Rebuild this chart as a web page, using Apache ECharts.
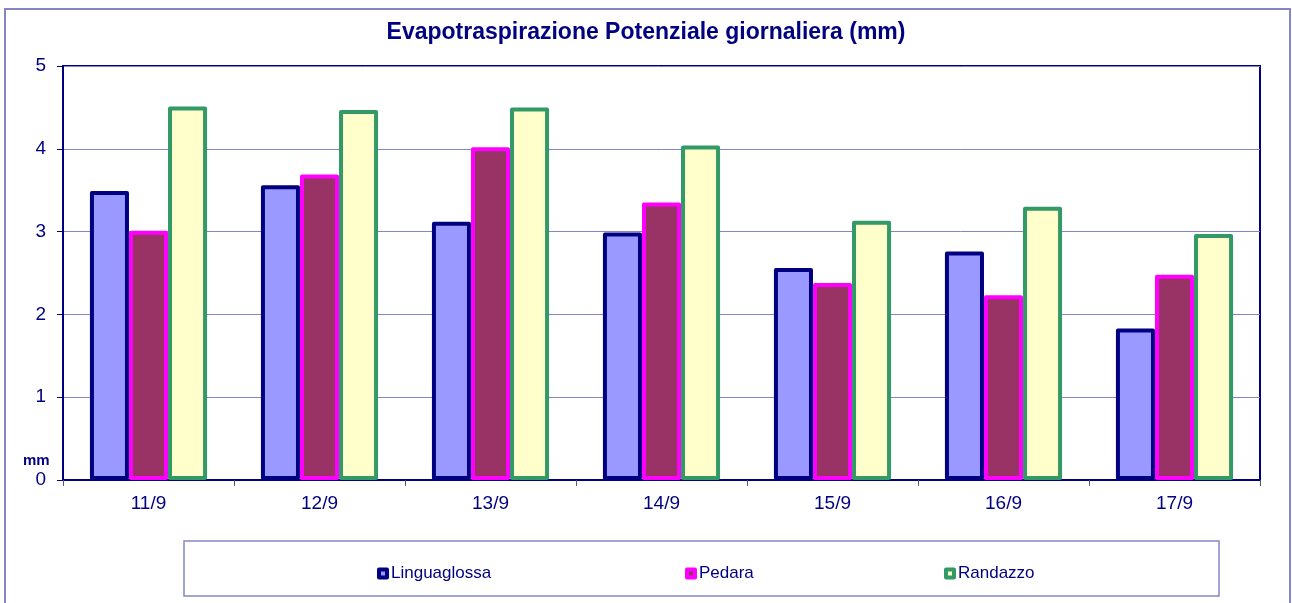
<!DOCTYPE html>
<html>
<head>
<meta charset="utf-8">
<script src="https://cdn.jsdelivr.net/npm/echarts@6/dist/echarts.min.js"></script>
<style>
html,body{margin:0;padding:0;background:#fff;}
#chart{width:1292px;height:603px;}
</style>
</head>
<body>
<div id="chart"></div>
<script>
var titleText = 'Evapotraspirazione Potenziale giornaliera (mm)';
var categories = ['11/9', '12/9', '13/9', '14/9', '15/9', '16/9', '17/9'];
var linguaglossa = [3.49, 3.56, 3.12, 2.99, 2.56, 2.76, 1.83];
var pedara = [3.01, 3.69, 4.02, 3.35, 2.38, 2.23, 2.48];
var randazzo = [4.51, 4.47, 4.50, 4.04, 3.13, 3.30, 2.97];
var yTicks = [0, 1, 2, 3, 4, 5];

var NAVY = '#000080';
var FONT = '"Liberation Sans", Arial, sans-serif';

var chart = echarts.init(document.getElementById('chart'), null, {renderer: 'canvas'});

function barSeries(name, data, fill, border) {
  return {
    name: name,
    type: 'bar',
    data: data,
    barGap: '0%',
    barCategoryGap: '31.5%',
    itemStyle: {color: fill, borderColor: border, borderWidth: 4, borderJoin: 'round'},
    emphasis: {disabled: true},
    animation: false
  };
}

function legendFor(name, left) {
  return {
    data: [name],
    left: left,
    top: 565,
    padding: 0,
    itemWidth: 8,
    itemHeight: 8,
    itemGap: 0,
    icon: 'rect',
    itemStyle: {borderWidth: 4},
    textStyle: {color: NAVY, fontSize: 17, fontFamily: FONT, padding: [0, 0, 0, -1]},
    selectedMode: false
  };
}

chart.setOption({
  backgroundColor: '#ffffff',
  animation: false,
  title: {
    text: titleText,
    left: 'center',
    top: 16,
    textStyle: {color: NAVY, fontSize: 23, fontWeight: 'bold', fontFamily: FONT}
  },
  legend: [
    legendFor('Linguaglossa', 377),
    legendFor('Pedara', 685),
    legendFor('Randazzo', 944)
  ],
  grid: {
    left: 63, right: 32, top: 66, bottom: 123,
    show: true, borderColor: NAVY, borderWidth: 2, backgroundColor: '#ffffff'
  },
  xAxis: {
    type: 'category',
    data: categories,
    axisLine: {lineStyle: {color: NAVY, width: 2}},
    axisTick: {show: true, alignWithLabel: false, length: 6, lineStyle: {color: '#555588'}},
    axisLabel: {color: NAVY, fontSize: 19, fontFamily: FONT, margin: 14}
  },
  yAxis: {
    type: 'value',
    min: yTicks[0],
    max: yTicks[yTicks.length - 1],
    interval: 1,
    axisLine: {show: true, lineStyle: {color: NAVY, width: 2}},
    axisTick: {show: true, length: 6, lineStyle: {color: NAVY}},
    axisLabel: {color: NAVY, fontSize: 19, fontFamily: FONT, margin: 17},
    splitLine: {show: true, lineStyle: {color: '#8484C8', width: 1}}
  },
  graphic: [
    {
      type: 'rect', silent: true, z: -1,
      shape: {x: 5, y: 9, width: 1285, height: 610},
      style: {fill: 'none', stroke: '#8585C8', lineWidth: 2}
    },
    {
      type: 'rect', silent: true, z: -1,
      shape: {x: 184, y: 541, width: 1035, height: 55},
      style: {fill: 'none', stroke: '#8585C8', lineWidth: 1.5}
    },
    {
      type: 'text', silent: true,
      left: 23, top: 453,
      style: {text: 'mm', fill: NAVY, font: 'bold 15px ' + FONT}
    }
  ],
  series: [
    barSeries('Linguaglossa', linguaglossa, '#9999FF', NAVY),
    barSeries('Pedara', pedara, '#993366', '#FF00FF'),
    barSeries('Randazzo', randazzo, '#FFFFCC', '#339966')
  ]
});
</script>
</body>
</html>
